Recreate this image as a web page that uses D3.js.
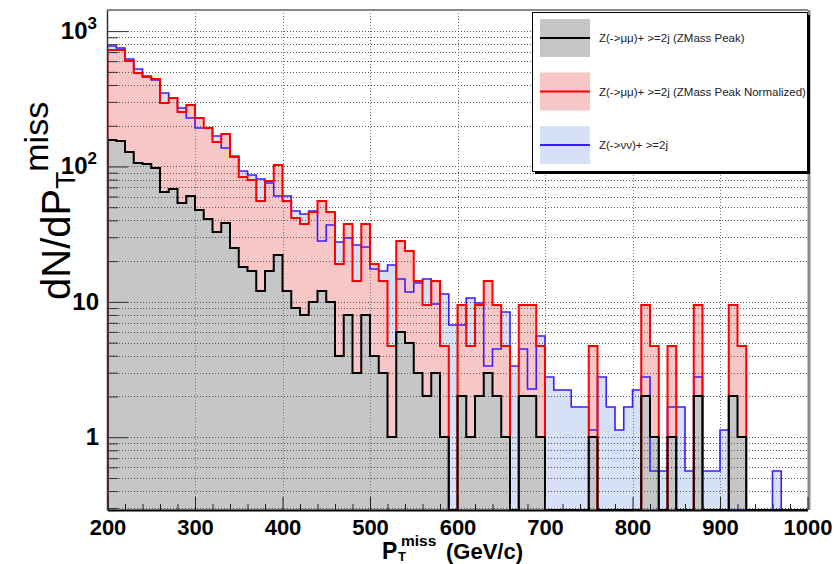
<!DOCTYPE html>
<html>
<head>
<meta charset="utf-8">
<script src="https://cdn.jsdelivr.net/npm/d3@7"></script>
<style>
  html, body { margin: 0; padding: 0; background: #fff; }
  svg { display: block; font-family: "Liberation Sans", Arial, Helvetica, sans-serif; }
</style>
</head>
<body>
<svg id="chart" width="837" height="564"></svg>
<script>
// P_T^miss spectra, 10 GeV bins from 200 to 1000 GeV
const binEdges = d3.range(200, 1001, 10);

// Z(->mumu)+ >=2j (ZMass Peak)
const zmmPeak = [
  157, 155, 129, 106, 104, 97, 65, 68, 54, 61,
  48, 41, 33, 38, 25, 18, 17, 12, 17, 22,
  12, 9, 8, 10, 12, 10, 4, 8, 3, 8,
  4, 3, 1, 6, 5, 3, 2, 3, 1, 0,
  2, 1, 2, 3, 2, 1, 0, 2, 2, 1,
  0, 0, 0, 0, 0, 1, 0, 0, 0, 0,
  0, 2, 1, 0, 1, 0, 0, 2, 0, 0,
  0, 2, 1, 0, 0, 0, 0, 0, 0, 0
];

// Z(->mumu)+ >=2j (ZMass Peak Normalized)
const zmmNorm = [
  725, 725, 601, 493, 460, 443, 296, 319, 251, 285,
  227, 193, 152, 173, 117, 84, 79.5, 55.6, 78.6, 102.6,
  55.9, 41.9, 37.4, 46.4, 55.6, 46.4, 18.9, 37.8, 14.2, 37.8,
  18.9, 14.2, 4.7, 28.3, 23.6, 14.2, 9.4, 14.2, 4.7, 0,
  9.4, 4.7, 9.4, 14.2, 9.4, 4.7, 0, 9.4, 9.4, 4.7,
  0, 0, 0, 0, 0, 4.7, 0, 0, 0, 0,
  0, 9.4, 4.7, 0, 4.7, 0, 0, 9.4, 0, 0,
  0, 9.4, 4.7, 0, 0, 0, 0, 0, 0, 0
];

// Z(->nunu)+ >=2j
const znn = [
  776, 744, 622, 525, 466, 435, 351, 322, 269, 229,
  193.5, 193.5, 168, 136, 119.6, 92.6, 86.5, 80.4, 75.2, 60.6,
  60.6, 47.2, 44.6, 47.2, 28.3, 37, 27.5, 29.8, 26.2, 25.4,
  17.5, 16.9, 18.8, 14.8, 11.8, 13.7, 14.8, 9.65, 11.4, 6.75,
  6.8, 10.7, 9.8, 3.38, 4.49, 8.46, 3.38, 4.49, 2.26, 5.6,
  2.8, 2.24, 2.24, 1.68, 1.68, 1.13, 2.8, 1.68, 1.13, 1.68,
  2.24, 2.8, 0.564, 0.564, 1.68, 1.68, 0.564, 2.8, 0.564, 0.564,
  1.13, 0, 0, 0, 0, 0, 0.564, 0, 0, 0
];

const xTickValues = [200, 300, 400, 500, 600, 700, 800, 900, 1000];
const yTickValues = [1, 10, 100, 1000];
const yTickLabels = [["1", ""], ["10", ""], ["10", "2"], ["10", "3"]];

const legendItems = [
  { key: "peak", label: "Z(->\u03bc\u03bc)+ >=2j (ZMass Peak)" },
  { key: "norm", label: "Z(->\u03bc\u03bc)+ >=2j (ZMass Peak Normalized)" },
  { key: "nunu", label: "Z(->\u03bd\u03bd)+ >=2j" }
];

const svg = d3.select("#chart");
const margin = { top: 10, left: 107 };
const width = 701;
const height = 500;
const yMin = 0.29, yMax = 1432;

const x = d3.scaleLinear().domain([200, 1000]).range([0.5, 700.5]);
const y = d3.scaleLog().domain([yMin, yMax]).range([height, 0]);

const lineColor = { peak: "#000000", norm: "#ff0000", nunu: "#3a1cff" };
const fillColor = { peak: "#c6c6c6", norm: "#f7c6c6", nunu: "#d6e0f6" };

const defs = svg.append("defs");
defs.append("clipPath").attr("id", "plot-clip")
  .append("rect").attr("x", 0).attr("y", 0).attr("width", width).attr("height", height);

const g = svg.append("g")
  .attr("transform", `translate(${margin.left},${margin.top})`);

// histograms: outline of a step histogram built through the scales
function stepPath(vals) {
  const bottom = height;
  const yy = v => (v > yMin ? Math.round(y(v)) : bottom);
  let d = `M${x(binEdges[0])},${bottom}`;
  vals.forEach((v, i) => {
    d += `L${x(binEdges[i])},${yy(v)}L${x(binEdges[i + 1])},${yy(v)}`;
  });
  d += `L${x(binEdges[binEdges.length - 1])},${bottom}`;
  return d;
}

const series = [["nunu", znn, 1.6], ["norm", zmmNorm, 2], ["peak", zmmPeak, 2]];

const fills = g.append("g").attr("clip-path", "url(#plot-clip)");
series.forEach(([k, vals]) => {
  fills.append("path")
    .attr("d", stepPath(vals) + "Z")
    .attr("fill", fillColor[k])
    .attr("stroke", "none");
});

// grid (visible through the fills, as in the ROOT canvas)
const grid = g.append("g").attr("class", "grid");
xTickValues.slice(1, -1).forEach(v => {
  grid.append("line")
    .attr("x1", Math.round(x(v)) + 0.5).attr("x2", Math.round(x(v)) + 0.5)
    .attr("y1", 0).attr("y2", height)
    .attr("stroke", "#777").attr("stroke-dasharray", "1,2");
});
const gridVals = [];
[0.1, 1, 10, 100, 1000].forEach(dec => {
  for (let m = 1; m < 10; m++) {
    const v = m * dec;
    if (v > yMin && v < yMax) gridVals.push(v);
  }
});
gridVals.forEach(v => {
  grid.append("line")
    .attr("x1", 0).attr("x2", width)
    .attr("y1", Math.round(y(v)) + 0.5).attr("y2", Math.round(y(v)) + 0.5)
    .attr("stroke", "#555").attr("stroke-dasharray", "1,2");
});

const lines = g.append("g").attr("clip-path", "url(#plot-clip)");
series.forEach(([k, vals, w]) => {
  lines.append("path")
    .attr("d", stepPath(vals))
    .attr("fill", "none")
    .attr("stroke", lineColor[k])
    .attr("stroke-width", w);
});

// frame (top / right)
g.append("line").attr("x1", 0).attr("x2", width).attr("y1", 0).attr("y2", 0)
  .attr("stroke", "#8a8a8a").attr("stroke-width", 2);
g.append("line").attr("x1", width + 1).attr("x2", width + 1).attr("y1", 0).attr("y2", height)
  .attr("stroke", "#8a8a8a").attr("stroke-width", 3);

// x axis, ticks inside
const minorX = d3.range(220, 1000, 20).filter(v => v % 100 !== 0);
g.append("g")
  .attr("transform", `translate(0,${height})`)
  .call(d3.axisBottom(x).tickValues(minorX).tickSizeInner(-6).tickSizeOuter(0).tickFormat(""))
  .call(a => a.select(".domain").remove())
  .call(a => a.selectAll("line").attr("stroke", "#222"));

const xAxis = g.append("g")
  .attr("transform", `translate(0,${height})`)
  .call(d3.axisBottom(x).tickValues(xTickValues).tickSizeInner(-13).tickSizeOuter(0).tickPadding(9).tickFormat(d3.format("d")));
xAxis.select(".domain").attr("stroke", "#000").attr("stroke-width", 2);
xAxis.selectAll("line").attr("stroke", "#222");
xAxis.selectAll("text")
  .attr("fill", "#000")
  .attr("font-size", "22px")
  .attr("font-weight", "bold");

// y axis, ticks inside
const minorY = gridVals.filter(v => !yTickValues.includes(v));
g.append("g")
  .call(d3.axisLeft(y).tickValues(minorY).tickSizeInner(-11).tickSizeOuter(0).tickFormat(""))
  .call(a => a.select(".domain").remove())
  .call(a => a.selectAll("line").attr("stroke", "#333"));

const yAxis = g.append("g")
  .call(d3.axisLeft(y).tickValues(yTickValues).tickSizeInner(-21).tickSizeOuter(0).tickFormat(""));
yAxis.select(".domain").attr("stroke", "#333").attr("stroke-width", 1.5);
yAxis.selectAll("line").attr("stroke", "#333");

yTickValues.forEach((v, i) => {
  const [base, exp] = yTickLabels[i];
  const t = g.append("text")
    .attr("x", exp ? -10 : -8)
    .attr("y", y(v) + 8)
    .attr("text-anchor", "end")
    .attr("font-size", "24px")
    .attr("font-weight", "bold")
    .attr("fill", "#000");
  t.append("tspan").text(base);
  if (exp) {
    t.append("tspan").attr("font-size", "17px").attr("dy", -10).text(exp);
  }
});

// axis titles
const xt = svg.append("g").attr("font-weight", "bold").attr("fill", "#000");
xt.append("text").attr("x", 382).attr("y", 559).attr("font-size", "23px").text("P");
xt.append("text").attr("x", 398).attr("y", 561).attr("font-size", "13px").text("T");
xt.append("text").attr("x", 401).attr("y", 546).attr("font-size", "15.5px").text("miss");
xt.append("text").attr("x", 446).attr("y", 559).attr("font-size", "22px").text("(GeV/c)");

const yt = svg.append("text")
  .attr("transform", "translate(70,300) rotate(-90)")
  .attr("fill", "#000")
  .attr("font-size", "40px");
yt.append("tspan").text("dN/dP");
yt.append("tspan").attr("font-size", "28px").attr("dy", 5).text("T");
yt.append("tspan").attr("font-size", "34px").attr("dy", -27).text("miss");

// legend
const lg = svg.append("g").attr("class", "legend");
lg.append("rect").attr("x", 535).attr("y", 15).attr("width", 275).attr("height", 159).attr("fill", "#000");
lg.append("rect").attr("x", 532.5).attr("y", 12.5).attr("width", 275).attr("height", 159)
  .attr("fill", "#fff").attr("stroke", "#000").attr("stroke-width", 1);

const entries = lg.selectAll("g.entry")
  .data(legendItems)
  .enter()
  .append("g")
  .attr("class", "entry")
  .attr("transform", (d, i) => `translate(0, ${i * 53.5})`);

entries.append("rect")
  .attr("x", 540).attr("y", 19).attr("width", 50).attr("height", 38)
  .attr("fill", d => fillColor[d.key]);
entries.append("line")
  .attr("x1", 540).attr("x2", 590).attr("y1", 38).attr("y2", 38)
  .attr("stroke", d => lineColor[d.key]).attr("stroke-width", 2);
entries.append("text")
  .attr("x", 599).attr("y", 42)
  .attr("font-size", "11.5px")
  .attr("fill", "#222")
  .text(d => d.label);
</script>
</body>
</html>
